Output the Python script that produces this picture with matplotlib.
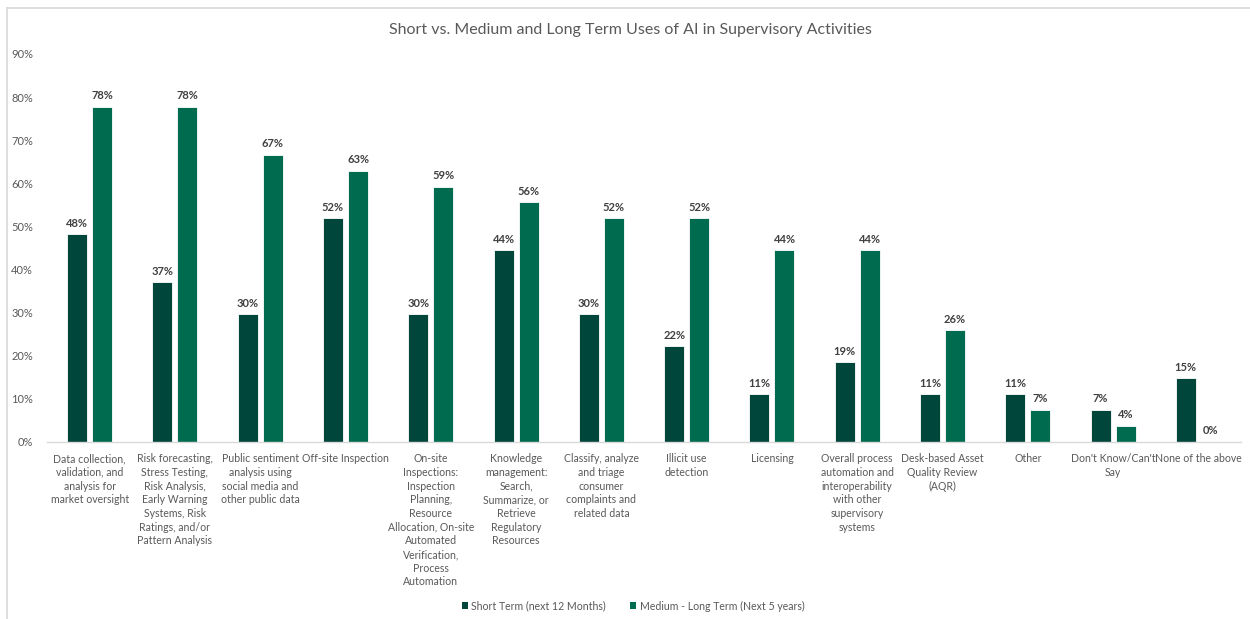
import matplotlib
matplotlib.use("Agg")
import matplotlib.pyplot as plt
import numpy as np
from matplotlib.lines import Line2D
from matplotlib.patches import Patch

plt.rcParams['font.family'] = ['Lato', 'DejaVu Sans']

categories = [
    "Data collection,\nvalidation, and\nanalysis for\nmarket oversight",
    "Risk forecasting,\nStress Testing,\nRisk Analysis,\nEarly Warning\nSystems, Risk\nRatings, and/or\nPattern Analysis",
    "Public sentiment\nanalysis using\nsocial media and\nother public data",
    "Off-site Inspection",
    "On-site\nInspections:\nInspection\nPlanning,\nResource\nAllocation, On-site\nAutomated\nVerification,\nProcess\nAutomation",
    "Knowledge\nmanagement:\nSearch,\nSummarize, or\nRetrieve\nRegulatory\nResources",
    "Classify, analyze\nand triage\nconsumer\ncomplaints and\nrelated data",
    "Illicit use\ndetection",
    "Licensing",
    "Overall process\nautomation and\ninteroperability\nwith other\nsupervisory\nsystems",
    "Desk-based Asset\nQuality Review\n(AQR)",
    "Other",
    "Don't Know/Can't\nSay",
    "None of the above",
]

short_term = [48.15, 37.04, 29.63, 51.85, 29.63, 44.44, 29.63, 22.22, 11.11, 18.52, 11.11, 11.11, 7.41, 14.81]
medium_long_term = [77.78, 77.78, 66.67, 62.96, 59.26, 55.56, 51.85, 51.85, 44.44, 44.44, 25.93, 7.41, 3.70, 0.0]

series_names = ["Short Term (next 12 Months)", "Medium - Long Term (Next 5 years)"]
y_ticks = [0, 10, 20, 30, 40, 50, 60, 70, 80, 90]

DARK = "#01463A"
GREEN = "#006B4F"
TEXT = "#595959"

fig = plt.figure(figsize=(12.5, 6.19), dpi=100)
ax = fig.add_axes([47 / 1250, 1 - 442 / 619, (1241 - 47) / 1250, (442 - 54) / 619])

x = np.arange(len(categories))
w = 0.234
off = 0.147
b1 = ax.bar(x - off, short_term, width=w, color=DARK, edgecolor="white", linewidth=0.6)
b2 = ax.bar(x + off, medium_long_term, width=w, color=GREEN, edgecolor="white", linewidth=0.6)

for bars, vals in ((b1, short_term), (b2, medium_long_term)):
    for rect, v in zip(bars, vals):
        ax.annotate(f"{v:.0f}%", (rect.get_x() + rect.get_width() / 2, v),
                    xytext=(0, 4), textcoords="offset points",
                    ha="center", va="bottom", fontsize=8, fontweight="bold",
                    color="#404040")

ax.set_xlim(-0.5, len(categories) - 0.5)
ax.set_ylim(0, 90)
ax.set_yticks(y_ticks)
ax.set_yticklabels([f"{t}%" for t in y_ticks], fontsize=8, color=TEXT)
ax.set_xticks(x)
ax.set_xticklabels(categories, fontsize=7.6, color=TEXT, linespacing=1.3, va="top")
ax.tick_params(axis="both", length=0)
ax.tick_params(axis="x", pad=8)
ax.tick_params(axis="y", pad=10)
for s in ("top", "right", "left"):
    ax.spines[s].set_visible(False)
ax.spines["bottom"].set_color("#D9D9D9")
ax.spines["bottom"].set_linewidth(1.0)

fig.text(630 / 1250, 1 - 30 / 619,
         "Short vs. Medium and Long Term Uses of AI in Supervisory Activities",
         ha="center", va="center", fontsize=11.5, color=TEXT)

handles = [Patch(facecolor=DARK, edgecolor="none"), Patch(facecolor=GREEN, edgecolor="none")]
fig.legend(handles, series_names, loc="center", bbox_to_anchor=(633 / 1250, 1 - 606 / 619),
           ncol=2, frameon=False, fontsize=7.6, handlelength=0.6, handleheight=0.6,
           handletextpad=0.3, columnspacing=2.3, labelcolor=TEXT)

# outer chart frame (top and left edges)
fig.add_artist(Line2D([7 / 1250, 1.0], [1 - 8 / 619, 1 - 8 / 619], color="#D9D9D9", linewidth=1.2))
fig.add_artist(Line2D([7 / 1250, 7 / 1250], [0.0, 1 - 8 / 619], color="#D9D9D9", linewidth=1.2))

fig.savefig("out.png", dpi=100, facecolor="white")
